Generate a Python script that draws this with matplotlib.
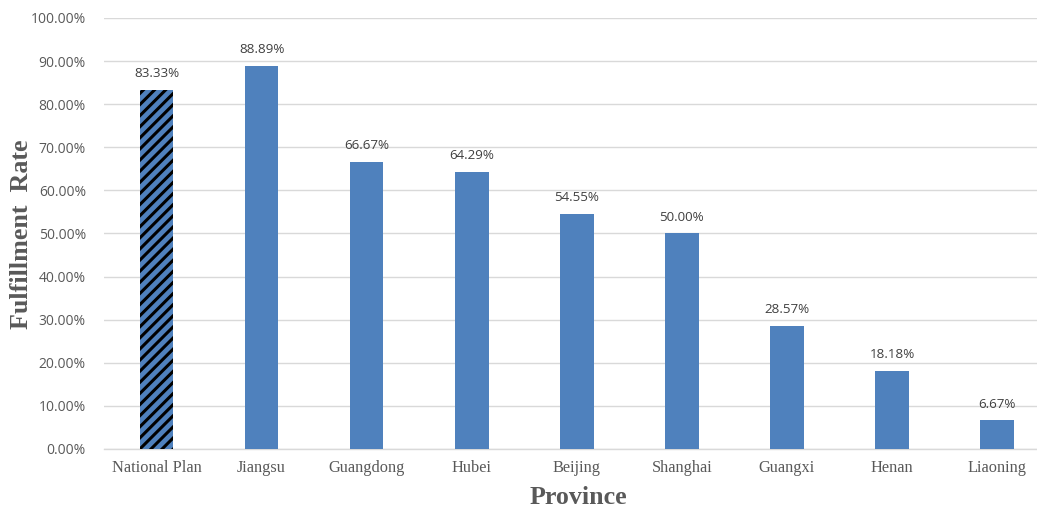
import matplotlib
matplotlib.use("Agg")
import matplotlib.pyplot as plt
from matplotlib.ticker import MultipleLocator, FuncFormatter

categories = ["National Plan", "Jiangsu", "Guangdong", "Hubei", "Beijing",
              "Shanghai", "Guangxi", "Henan", "Liaoning"]
rates = [83.33, 88.89, 66.67, 64.29, 54.55, 50.00, 28.57, 18.18, 6.67]
value_labels = ["83.33%", "88.89%", "66.67%", "64.29%", "54.55%",
                "50.00%", "28.57%", "18.18%", "6.67%"]

plt.rcParams['hatch.linewidth'] = 2.2
fig = plt.figure(figsize=(10.37, 5.08), dpi=100)
ax = fig.add_axes([104/1037, 1 - 449/508, (1037 - 104)/1037, (449 - 18)/508])

blue = "#4F81BD"
x = list(range(len(categories)))
bars = ax.bar(x, rates, width=0.32, color=blue, zorder=3, linewidth=0)
bars[0].set_hatch("///")
bars[0].set_edgecolor("black")

for xi, r, lab in zip(x, rates, value_labels):
    ax.text(xi, r + 2.2, lab, ha="center", va="bottom", fontsize=9.6,
            color="#404040", family="Open Sans")

ax.set_ylim(0, 100)
ax.set_xlim(-0.5, 8.38)
ax.yaxis.set_major_locator(MultipleLocator(10))
ax.yaxis.set_major_formatter(FuncFormatter(lambda v, p: f"{v:.2f}%"))
ax.grid(axis="y", color="#D9D9D9", linewidth=1, zorder=0)
for s in ["top", "right", "left"]:
    ax.spines[s].set_visible(False)
ax.spines["bottom"].set_color("#D9D9D9")
ax.spines["bottom"].set_linewidth(1)
ax.tick_params(axis="y", length=0, pad=13, labelsize=10, labelcolor="#595959")
ax.tick_params(axis="x", length=0, pad=8, labelsize=11.8, labelcolor="#595959")
for t in ax.get_yticklabels():
    t.set_family("Open Sans")
ax.set_xticks(x)
ax.set_xticklabels(categories, family="Liberation Serif")

fig.text(578/1037, 1 - 497/508, "Province", ha="center", va="center",
         fontsize=18.7, fontweight="bold", family="Liberation Serif", color="#595959")
fig.text(22/1037, 1 - 234/508, "Fulfillment  Rate", ha="center", va="center",
         rotation=90, fontsize=18.7, fontweight="bold", family="Liberation Serif",
         color="#595959")

fig.savefig("out.png", dpi=100)
